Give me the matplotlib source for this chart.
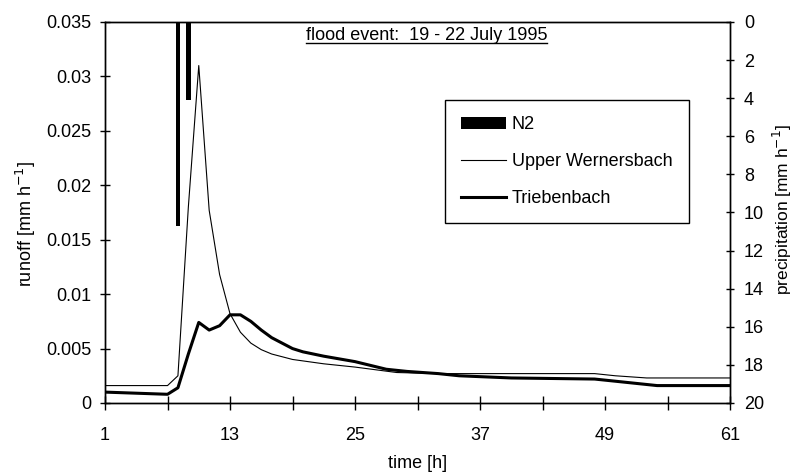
import matplotlib
matplotlib.use("Agg")
import matplotlib.pyplot as plt
from matplotlib.lines import Line2D

# precipitation (N2), mm/h
rain_time = [8, 9]
rain_mm = [10.7, 4.1]

# runoff, mm/h
uw_time = [1, 7, 8, 9, 10, 11, 12, 13, 14, 15, 16, 17, 19, 22, 25, 29, 33, 48, 50, 53, 61]
uw_runoff = [0.0016, 0.0016, 0.0025, 0.018, 0.031, 0.0177, 0.0118, 0.0082, 0.0065,
             0.0055, 0.0049, 0.0045, 0.0040, 0.0036, 0.0033, 0.0028, 0.0027, 0.0027,
             0.0025, 0.0023, 0.0023]

tb_time = [1, 7, 8, 9, 10, 11, 12, 13, 14, 15, 16, 17, 18, 19, 20, 22, 25, 28, 30,
           33, 35, 40, 48, 50, 54, 61]
tb_runoff = [0.0010, 0.0008, 0.0014, 0.0045, 0.0074, 0.0067, 0.0071, 0.0081, 0.0081,
             0.0075, 0.0067, 0.0060, 0.0055, 0.0050, 0.0047, 0.0043, 0.0038, 0.0031,
             0.0029, 0.0027, 0.0025, 0.0023, 0.0022, 0.0020, 0.0016, 0.0016]

xticks = [1, 13, 25, 37, 49, 61]
xminor = [7, 19, 31, 43, 55]
yticks_left = [0, 0.005, 0.01, 0.015, 0.02, 0.025, 0.03, 0.035]
ylabels_left = ['0', '0.005', '0.01', '0.015', '0.02', '0.025', '0.03', '0.035']
yticks_right = list(range(0, 21, 2))

plt.rcParams['font.family'] = ['Liberation Sans', 'DejaVu Sans']
plt.rcParams['font.size'] = 13

fig = plt.figure(figsize=(7.98, 4.73), dpi=100)
ax = fig.add_axes([0.1316, 0.148, 0.7832, 0.8055])
ax2 = ax.twinx()

l_uw, = ax.plot(uw_time, uw_runoff, color='black', lw=0.8, label='Upper Wernersbach')
l_tb, = ax.plot(tb_time, tb_runoff, color='black', lw=2.2, label='Triebenbach')
bars = ax2.bar(rain_time, rain_mm, width=0.45, color='black', label='N2')

ax.set_xlim(1, 61)
ax.set_ylim(0, 0.035)
ax2.set_ylim(20, 0)

ax.set_xticks(xticks)
ax.set_xticks(xminor, minor=True)
ax.set_yticks(yticks_left)
ax.set_yticklabels(ylabels_left)
ax2.set_yticks(yticks_right)

ax.tick_params(axis='x', which='both', direction='inout', length=10, width=1, pad=12)
ax.tick_params(axis='y', direction='inout', length=7, width=1, pad=6)
ax2.tick_params(axis='y', direction='inout', length=6, width=1, pad=7)

for a in (ax, ax2):
    for s in a.spines.values():
        s.set_linewidth(1)
        s.set_color('black')

ax.set_xlabel('time [h]')
ax.xaxis.set_label_coords(0.5, -0.137)
ax.set_ylabel('runoff [mm h$^{-1}$]')
ax.yaxis.set_label_coords(-0.108, 0.47)
ax2.set_ylabel('precipitation [mm h$^{-1}$]', fontsize=12.5)
ax2.yaxis.set_label_coords(1.066, 0.507)

title = ax.text(0.514, 0.965, 'flood event:  19 - 22 July 1995', transform=ax.transAxes,
                ha='center', va='center', fontsize=13)

leg = ax2.legend([bars, l_uw, l_tb], ['N2', 'Upper Wernersbach', 'Triebenbach'],
                 loc='upper left', bbox_to_anchor=(0.544, 0.795), fancybox=False,
                 edgecolor='black', framealpha=1, handlelength=2.5, labelspacing=1.1,
                 borderpad=0.9, handletextpad=0.3, borderaxespad=0)
leg.get_frame().set_linewidth(1)

# underline the event title
fig.canvas.draw()
bb = title.get_window_extent().transformed(fig.transFigure.inverted())
fig.add_artist(Line2D([bb.x0, bb.x1], [bb.y0 + 0.002, bb.y0 + 0.002],
                      transform=fig.transFigure, color='black', lw=1))

fig.savefig('out.png', dpi=100)
